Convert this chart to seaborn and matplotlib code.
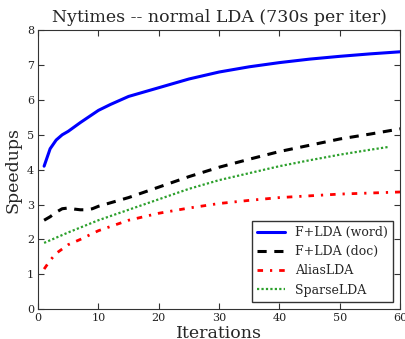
import seaborn as sns
import matplotlib
matplotlib.use("Agg")
import matplotlib.pyplot as plt
import numpy as np

# iterations and speedups
word_x = [1, 2, 3, 4, 5, 7, 10, 12, 15, 20, 25, 30, 35, 40, 45, 50, 55, 60]
word_y = [4.1, 4.6, 4.85, 5.0, 5.1, 5.35, 5.7, 5.87, 6.1, 6.35, 6.6, 6.8, 6.95, 7.07, 7.17, 7.25, 7.32, 7.38]

doc_x = [1, 2, 3, 4, 5, 6, 7, 8, 9, 10, 15, 20, 25, 30, 35, 40, 45, 50, 55, 60]
doc_y = [2.55, 2.65, 2.78, 2.88, 2.9, 2.87, 2.85, 2.85, 2.88, 2.95, 3.2, 3.5, 3.8, 4.07, 4.3, 4.52, 4.7, 4.88, 5.02, 5.17]

alias_x = [1, 2, 3, 5, 7, 10, 15, 20, 25, 30, 35, 40, 45, 50, 55, 60]
alias_y = [1.15, 1.4, 1.6, 1.85, 2.0, 2.25, 2.55, 2.75, 2.9, 3.03, 3.12, 3.2, 3.25, 3.3, 3.33, 3.36]

sparse_x = [1, 5, 10, 15, 20, 25, 30, 35, 40, 45, 50, 55, 58]
sparse_y = [1.9, 2.2, 2.55, 2.85, 3.15, 3.45, 3.7, 3.9, 4.1, 4.27, 4.43, 4.57, 4.65]

sns.set_style("ticks")
plt.rcParams['font.family'] = ['DejaVu Serif']
plt.rcParams['xtick.direction'] = 'in'
plt.rcParams['ytick.direction'] = 'in'

fig = plt.figure(figsize=(4.05, 3.39), dpi=100)
ax = fig.add_axes([0.094, 0.088, 0.894, 0.823])

sns.lineplot(x=word_x, y=word_y, ax=ax, color='blue', lw=2.2, label='F+LDA (word)')
sns.lineplot(x=doc_x, y=doc_y, ax=ax, color='black', lw=2.2, dashes=(3, 2.5), label='F+LDA (doc)')
sns.lineplot(x=alias_x, y=alias_y, ax=ax, color='red', lw=2, dashes=(2, 2.5, 0.8, 2.5), label='AliasLDA')
sns.lineplot(x=sparse_x, y=sparse_y, ax=ax, color='#2ca02c', lw=1.6, dashes=(1, 1), label='SparseLDA')

ax.set_xlim(0, 60)
ax.set_ylim(0, 8)
ax.set_xticks(range(0, 61, 10))
ax.set_yticks(range(0, 9))
ax.tick_params(labelsize=8, top=True, right=True, length=4, pad=3, colors='#333333', labelcolor='#222222')
for s in ax.spines.values():
    s.set_color('#333333')
ax.set_title('Nytimes -- normal LDA (730s per iter)', fontsize=12.5, pad=6)
ax.set_xlabel('Iterations', fontsize=12.5, labelpad=1)
ax.set_ylabel('Speedups', fontsize=12.5, labelpad=4)

leg = ax.legend(loc='lower right', fontsize=9, fancybox=False, framealpha=1, handlelength=2.2,
                borderaxespad=0.6)
leg.get_frame().set_edgecolor('#333333')

fig.savefig('out.png', dpi=100)
